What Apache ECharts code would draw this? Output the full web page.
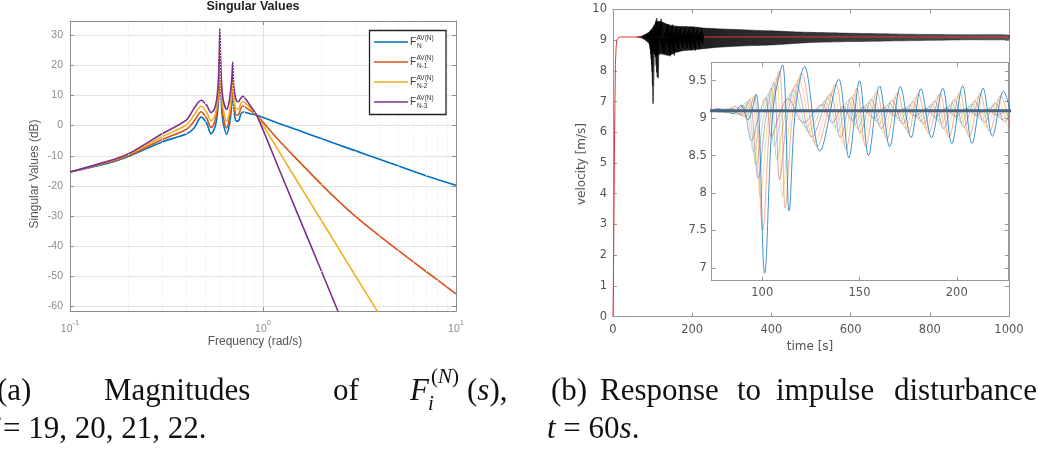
<!DOCTYPE html>
<html>
<head>
<meta charset="utf-8">
<script src="https://cdn.jsdelivr.net/npm/echarts@6.0.0/dist/echarts.min.js"></script>
<style>
  html, body { margin: 0; padding: 0; background: #fff; }
  #chart { width: 1038px; height: 450px; }
</style>
</head>
<body>
<div id="chart"></div>
<script>
// ---------- (a) singular values ----------
const freq = [0.1, 0.15, 0.2, 0.3, 0.4, 0.44, 0.478, 0.51, 0.538, 0.56,
  0.575, 0.586, 0.593, 0.598, 0.603, 0.61, 0.622, 0.648, 0.668, 0.682,
  0.69, 0.697, 0.704, 0.714, 0.728, 0.745, 0.765, 0.785, 0.85, 0.928,
  1.2, 1.5, 2, 2.44, 3, 3.88, 5, 7, 10];
const svN = [-15.4, -12.8, -10.3, -5.4, -2.8, -0.8, 2.8, 0.8, -2.7, -1.0,
  2.0, 7, 13, 21, 13, 6, 1, -2.9, 0, 4,
  8, 12, 7, 3, 1.5, 1.5, 3.5, 4.5, 4.0, 3.4,
  0.8, -1.4, -4.3, -6.3, -8.3, -10.8, -13.3, -16.6, -19.8];
const svN1 = [-15.4, -12.6, -10.0, -4.6, -1.3, 1.5, 4.6, 2.5, -0.6, 1.0,
  4.0, 9, 16, 25, 16, 8, 3, -0.8, 2, 6,
  10, 15, 9, 5, 3.5, 3.5, 5.5, 6.5, 5.2, 3.4,
  -4.7, -11.2, -19.4, -24.8, -30.0, -35.8, -41.3, -48.4, -55.8];
const svN2 = [-15.4, -12.4, -9.7, -3.7, 0.2, 3.5, 6.4, 4.5, 1.6, 3.0,
  6.0, 11, 19, 28.5, 19, 11, 5.5, 1.5, 4, 8,
  12.5, 18, 11.5, 7, 5.5, 5.5, 7.0, 8.0, 6.2, 3.4,
  -8.2, -18.3, -31.3, -40.3, -49.6, -61.2, -72.7, null, null];
const svN3 = [-15.4, -12.2, -9.4, -2.7, 1.8, 5.8, 8.4, 6.8, 4.3, 5.5,
  8.5, 14, 22, 32.2, 22, 14, 8.5, 5.4, 8, 12.5,
  16, 21.1, 13.5, 10.5, 8.3, 7.9, 9.0, 9.7, 7.0, 3.4,
  -13.8, -28.8, -48, -61.4, -75, null, null, null, null];
const minorFreq = [0.2, 0.3, 0.4, 0.5, 0.6, 0.7, 0.8, 0.9, 2, 3, 4, 5, 6, 7, 8, 9];
const svSub = ['N', 'N-1', 'N-2', 'N-3'];
const svColors = ['#0072BD', '#D95319', '#EDB120', '#7E2F8E'];

// ---------- (b) velocity response ----------
const redT = [0, 2, 4, 6, 8, 10, 14, 20, 1000];
const redV = [0, 2.5, 6.0, 8.2, 8.8, 9.0, 9.08, 9.1, 9.1];
const cruiseT = [0, 1000];
const cruiseV = [9.1, 9.1];
// spread of the black traces in the big plot
const envT  = [60, 75, 90, 100, 110, 120, 140, 160, 180, 200, 230, 260, 300, 350, 400, 450, 500, 600, 700, 800, 900, 1000];
const envHi = [9.1, 9.14, 9.25, 9.4, 9.6, 9.6, 9.5, 9.45, 9.44, 9.43, 9.39, 9.37, 9.35, 9.32, 9.3, 9.27, 9.25, 9.22, 9.2, 9.18, 9.17, 9.16];
const envLo = [9.1, 9.05, 8.9, 8.6, 8.5, 8.55, 8.5, 8.6, 8.66, 8.68, 8.72, 8.76, 8.79, 8.82, 8.84, 8.88, 8.92, 8.95, 8.97, 8.99, 9.01, 9.02];
// single vehicles, peaks and troughs as seen in the inset
const vehBlue = [[74,9.10],[80,9.12],[85,9.06],[89,9.17],[92.5,8.98],[96.8,9.32],[101.2,6.93],[105.5,9.1],[110.4,9.71],[113.8,7.76],[117,9.1],[121.7,9.69],[129.6,8.56],[139.3,9.52],[144.5,8.47],[150.0,9.50],[154.6,8.50],[160.3,9.43],[165.5,8.62],[171.0,9.42],[176.5,8.74],[181.5,9.39],[187.0,8.74],[192.8,9.40],[197.4,8.66],[203.0,9.43],[207.8,8.66],[213.5,9.40],[218.3,8.76],[224.0,9.36],[229.0,8.90]];
const vehOrange = [[74,9.11],[79,9.08],[84,9.14],[88,9.05],[91.5,9.02],[95.7,9.30],[100.2,7.50],[104.3,9.05],[108.8,9.63],[111.8,7.80],[115.6,9.05],[120.2,9.60],[128.2,8.62],[137.8,9.45],[143.0,8.58],[148.6,9.40],[153.2,8.62],[158.9,9.36],[164.1,8.72],[169.6,9.34],[175.1,8.80],[180.1,9.33],[185.6,8.80],[191.4,9.33],[196.0,8.74],[201.6,9.35],[206.4,8.75],[212.1,9.33],[216.9,8.82],[222.6,9.30],[227.4,8.86]];
const vehYellow = [[74,9.09],[78,9.12],[83,9.06],[87,9.15],[90.5,9.02],[94.5,9.28],[99.0,7.95],[103,9.0],[107.3,9.55],[110.3,7.95],[114.2,9.0],[118.8,9.52],[126.8,8.68],[136.4,9.38],[141.6,8.66],[147.2,9.33],[151.8,8.72],[157.5,9.30],[162.7,8.80],[168.2,9.28],[173.7,8.86],[178.7,9.27],[184.2,8.86],[190.0,9.28],[194.6,8.80],[200.2,9.30],[205.0,8.82],[210.7,9.28],[215.5,8.88],[221.2,9.25],[226.0,8.90]];
const vehPurple = [[74,9.1],[77,9.13],[82,9.07],[86,9.16],[89.5,9.04],[93.3,9.25],[97.9,8.20],[101.8,9.0],[105.9,9.48],[108.9,8.18],[112.8,9.0],[117.4,9.45],[125.4,8.75],[135.0,9.32],[140.2,8.74],[145.8,9.28],[150.4,8.80],[156.1,9.25],[161.3,8.86],[166.8,9.24],[172.3,8.92],[177.3,9.22],[182.8,8.92],[188.6,9.23],[193.2,8.86],[198.8,9.25],[203.6,8.88],[209.3,9.23],[214.1,8.94],[219.8,9.20],[224.6,8.95],[229,9.15]];
const vehGreen = [[74,9.12],[78,9.08],[82,9.13],[85.5,9.06],[88.5,9.05],[92.2,9.22],[96.8,8.38],[100.6,9.0],[104.5,9.40],[107.5,8.45],[111.4,9.0],[116.0,9.38],[124.0,8.82],[133.6,9.27],[138.8,8.82],[144.4,9.24],[149.0,8.86],[154.7,9.21],[159.9,8.92],[165.4,9.20],[170.9,8.96],[175.9,9.18],[181.4,8.96],[187.2,9.19],[191.8,8.92],[197.4,9.20],[202.2,8.94],[207.9,9.19],[212.7,8.98],[218.4,9.17],[223.2,8.98],[228,9.15]];
const vehCyan = [[74,9.08],[78,9.12],[81,9.07],[84.5,9.13],[87.5,9.06],[91.0,9.20],[95.6,8.55],[99.4,9.02],[103.1,9.33],[106.1,8.62],[110,9.02],[114.6,9.32],[122.6,8.88],[132.2,9.22],[137.4,8.88],[143.0,9.20],[147.6,8.92],[153.3,9.18],[158.5,8.96],[164.0,9.17],[169.5,9.00],[174.5,9.15],[180.0,9.00],[185.8,9.16],[190.4,8.97],[196.0,9.17],[200.8,8.98],[206.5,9.16],[211.3,9.01],[217.0,9.14],[221.8,9.01],[227.0,9.14]];
const vehRed = [[74,9.1],[77,9.12],[80.5,9.08],[83.5,9.12],[86.5,9.07],[89.8,9.17],[94.4,8.70],[98.2,9.03],[101.7,9.27],[104.7,8.75],[108.6,9.03],[113.2,9.26],[121.2,8.94],[130.8,9.18],[136.0,8.94],[141.6,9.16],[146.2,8.97],[151.9,9.15],[157.1,9.00],[162.6,9.14],[168.1,9.03],[173.1,9.13],[178.6,9.03],[184.4,9.13],[189.0,9.01],[194.6,9.14],[199.4,9.02],[205.1,9.13],[209.9,9.04],[215.6,9.12],[220.4,9.04],[226.0,9.12]];
const vehicles = [vehRed, vehCyan, vehGreen, vehPurple, vehYellow, vehOrange, vehBlue];
const vehColors = ['#A2142F', '#4DBEEE', '#77AC30', '#7E2F8E', '#EDB120', '#D95319', '#0072BD'];

// caption words placed where the justified lines put them
const capLine1 = [[-3, '(a)'], [104, 'Magnitudes'], [333, 'of'], [551, '(b)'], [600, 'Response'], [737, 'to'], [776, 'impulse'], [894, 'disturbance']];

const pair = (xs, ys) => xs.map((x, i) => [x, ys[i]]);

const chart = echarts.init(document.getElementById('chart'));

const leftGray = '#8c8c8c';
const leftFont = 'Liberation Sans';
const rightFont = 'DejaVu Sans';

function mirrorAxis(gridIndex, position, extra, color) {
  return Object.assign({
    gridIndex: gridIndex,
    position: position,
    axisLine: { show: true, onZero: false, lineStyle: { color: color } },
    axisTick: { show: true, inside: true, length: 4, lineStyle: { color: color } },
    axisLabel: { show: false },
    splitLine: { show: false }
  }, extra);
}

const leftLog = { type: 'log', logBase: 10, min: 0.1, max: 10 };
const leftVal = { type: 'value', min: -61.5, max: 34.7, splitNumber: 10 };
const mainX = { type: 'value', min: 0, max: 1000, interval: 200 };
const mainY = { type: 'value', min: 0, max: 10, interval: 1 };
const insetX = { type: 'value', min: 74, max: 226.7, splitNumber: 3 };
const insetY = { type: 'value', min: 6.83, max: 9.74, splitNumber: 6 };

const series = [];

// (a)
[svN, svN1, svN2, svN3].forEach((vals, k) => {
  series.push({
    type: 'line', xAxisIndex: 0, yAxisIndex: 0,
    data: pair(freq, vals),
    showSymbol: false, smooth: 0.3,
    lineStyle: { width: 1.6, color: svColors[k] },
    itemStyle: { color: svColors[k] },
    markLine: k === 0 ? {
      silent: true, symbol: ['none', 'none'], label: { show: false },
      lineStyle: { color: '#e6e6e6', type: [1, 2], width: 1 },
      data: minorFreq.map(f => ({ xAxis: f }))
    } : undefined
  });
});

// (b) main plot: red lead trace first, the black traces go over it
series.push({
  type: 'line', xAxisIndex: 2, yAxisIndex: 2, data: pair(redT, redV),
  showSymbol: false, lineStyle: { width: 1, color: '#e03a3a' }
});
series.push({
  type: 'custom', xAxisIndex: 2, yAxisIndex: 2,
  data: [[envT[0], envHi[0]]], encode: { x: 0, y: 1 }, silent: true,
  renderItem: (params, api) => {
    const top = envT.map((t, i) => api.coord([t, envHi[i]]));
    const bot = envT.map((t, i) => api.coord([t, envLo[i]])).reverse();
    return {
      type: 'polygon',
      shape: { points: top.concat(bot), smooth: 0.2 },
      style: {
        fill: new echarts.graphic.LinearGradient(0, 0, 1, 0, [
          { offset: 0, color: 'rgba(0,0,0,0.95)' },
          { offset: 0.25, color: 'rgba(0,0,0,0.85)' },
          { offset: 1, color: 'rgba(30,30,30,0.75)' }
        ]),
        stroke: '#111', lineWidth: 0.5
      }
    };
  }
});
vehicles.forEach(v => {
  series.push({
    type: 'line', xAxisIndex: 2, yAxisIndex: 2, data: v,
    showSymbol: false, smooth: 0.35,
    lineStyle: { width: 0.7, color: '#000' }
  });
});

// (b) inset
vehicles.forEach((v, k) => {
  const main = k === vehicles.length - 1;
  series.push({
    type: 'line', xAxisIndex: 4, yAxisIndex: 4, data: v,
    showSymbol: false, smooth: 0.35,
    lineStyle: { width: main ? 1 : 0.8, color: vehColors[k], opacity: main ? 0.75 : 0.55 }
  });
});
series.push({
  type: 'line', xAxisIndex: 4, yAxisIndex: 4, data: pair(cruiseT, cruiseV),
  showSymbol: false, lineStyle: { width: 3, color: '#4a6580' }
});

// legend of (a), drawn by hand for the stacked super/subscripts
const graphic = [];
graphic.push({
  type: 'rect', shape: { x: 369.5, y: 30.5, width: 76.5, height: 84 },
  style: { fill: '#fff', stroke: '#222', lineWidth: 1.3 }, z: 100
});
svSub.forEach((sub, k) => {
  const y = 42 + 20 * k;
  graphic.push({ type: 'line', shape: { x1: 374, y1: y, x2: 408, y2: y },
    style: { stroke: svColors[k], lineWidth: 1.6 }, z: 101 });
  graphic.push({ type: 'text', x: 410, y: y, z: 101,
    style: { text: 'F', fontSize: 10, fontFamily: leftFont, fill: '#333', verticalAlign: 'middle', textVerticalAlign: 'middle' } });
  graphic.push({ type: 'text', x: 416.5, y: y - 4, z: 101,
    style: { text: 'AV(N)', fontSize: 6.5, fontFamily: leftFont, fill: '#333', verticalAlign: 'middle', textVerticalAlign: 'middle' } });
  graphic.push({ type: 'text', x: 417, y: y + 4.5, z: 101,
    style: { text: sub, fontSize: 6.5, fontFamily: leftFont, fill: '#333', verticalAlign: 'middle', textVerticalAlign: 'middle' } });
});

function label(x, y, text, font, size, color, opts) {
  return Object.assign({
    type: 'text', x: x, y: y,
    style: { text: text, fontFamily: font, fontSize: size, fill: color,
      align: 'center', textAlign: 'center', verticalAlign: 'middle', textVerticalAlign: 'middle' }
  }, opts || {});
}
const title = label(253, 7, 'Singular Values', leftFont, 12.5, '#222', {});
title.style.fontWeight = 'bold';
graphic.push(title);
graphic.push(label(35, 174, 'Singular Values (dB)', leftFont, 12, '#555', { rotation: Math.PI / 2 }));
graphic.push(label(255, 342, 'Frequency (rad/s)', leftFont, 12, '#555', {}));
graphic.push(label(582, 164, 'velocity [m/s]', rightFont, 12, '#555', { rotation: Math.PI / 2 }));
graphic.push(label(810, 347, 'time [s]', rightFont, 12, '#555', {}));

// captions
const serif = 'Liberation Serif';
function cap(x, y, text, size, rich) {
  return {
    type: 'text', x: x, y: y,
    style: { text: text, fontFamily: serif, fontSize: size, fill: '#111',
      align: 'left', textAlign: 'left', verticalAlign: 'middle', textVerticalAlign: 'middle',
      rich: rich }
  };
}
const itRich = { i: { fontFamily: serif, fontSize: 31, fontStyle: 'italic', fill: '#111' } };
const itSmall = { s: { fontFamily: serif, fontSize: 21, fontStyle: 'italic', fill: '#111' } };
capLine1.forEach(w => graphic.push(cap(w[0], 392, w[1], 31)));
graphic.push(cap(410, 392, '{i|F}', 31, itRich));
graphic.push(cap(428, 404, '{s|i}', 21, itSmall));
graphic.push(cap(431, 377, '({s|N})', 21, itSmall));
graphic.push(cap(467, 392, '({i|s}),', 31, itRich));
graphic.push(cap(-7, 430, '{i|i}', 31, itRich));
graphic.push(cap(3, 430, '= 19, 20, 21, 22.', 31));
graphic.push(cap(547, 430, '{i|t} = 60{i|s}.', 31, itRich));

const mainAxisLine = { show: true, onZero: false, lineStyle: { color: '#999' } };
const mainTick = { show: true, inside: true, length: 4, lineStyle: { color: '#999' } };

const option = {
  animation: false,
  backgroundColor: '#fff',
  grid: [
    { left: 70, top: 21, width: 386, height: 290, outerBoundsMode: 'none', show: true, backgroundColor: '#fff', borderWidth: 0 },
    { left: 613, top: 9.3, width: 396, height: 307.4, outerBoundsMode: 'none', show: true, backgroundColor: '#fff', borderWidth: 0 },
    { left: 711.7, top: 62.7, width: 297, height: 218, outerBoundsMode: 'none', show: true, backgroundColor: '#fff', borderWidth: 0 }
  ],
  xAxis: [
    Object.assign({}, leftLog, {
      gridIndex: 0, position: 'bottom',
      axisLine: { show: true, onZero: false, lineStyle: { color: leftGray } },
      axisTick: { show: true, inside: true, length: 4, lineStyle: { color: leftGray } },
      splitLine: { show: true, lineStyle: { color: '#e2e2e2' } },
      axisLabel: {
        margin: 8,
        formatter: v => '{b|10}{s|' + Math.round(Math.log10(v)) + '}',
        rich: {
          b: { fontSize: 10.5, fontFamily: leftFont, color: leftGray, lineHeight: 16, verticalAlign: 'bottom' },
          s: { fontSize: 7.5, fontFamily: leftFont, color: leftGray, lineHeight: 8, verticalAlign: 'top' }
        }
      }
    }),
    mirrorAxis(0, 'top', leftLog, leftGray),
    Object.assign({}, mainX, {
      gridIndex: 1, position: 'bottom',
      axisLine: mainAxisLine, axisTick: mainTick,
      splitLine: { show: false },
      axisLabel: { margin: 7, fontSize: 11.5, fontFamily: rightFont, color: '#555', formatter: v => String(v) }
    }),
    mirrorAxis(1, 'top', mainX, '#999'),
    Object.assign({}, insetX, {
      gridIndex: 2, position: 'bottom',
      axisLine: mainAxisLine, axisTick: mainTick,
      splitLine: { show: false },
      axisLabel: { margin: 6, fontSize: 11.5, fontFamily: rightFont, color: '#555',
        showMinLabel: false, showMaxLabel: false,
        formatter: v => (Math.abs(v % 50) < 1e-6 ? String(v) : '') }
    }),
    mirrorAxis(2, 'top', insetX, '#999')
  ],
  yAxis: [
    Object.assign({}, leftVal, {
      gridIndex: 0, position: 'left',
      axisLine: { show: true, onZero: false, lineStyle: { color: leftGray } },
      axisTick: { show: true, inside: true, length: 4, lineStyle: { color: leftGray } },
      splitLine: { show: true, lineStyle: { color: '#e2e2e2' } },
      axisLabel: { margin: 7, fontSize: 10.5, fontFamily: leftFont, color: leftGray,
        showMinLabel: false, showMaxLabel: false,
        formatter: v => (Math.abs(v % 10) < 1e-6 ? String(v) : '') }
    }),
    mirrorAxis(0, 'right', leftVal, leftGray),
    Object.assign({}, mainY, {
      gridIndex: 1, position: 'left',
      axisLine: mainAxisLine, axisTick: mainTick,
      splitLine: { show: false },
      axisLabel: { margin: 6, fontSize: 11.5, fontFamily: rightFont, color: '#555' }
    }),
    mirrorAxis(1, 'right', mainY, '#999'),
    Object.assign({}, insetY, {
      gridIndex: 2, position: 'left',
      axisLine: mainAxisLine, axisTick: mainTick,
      splitLine: { show: false },
      axisLabel: { margin: 5, fontSize: 11.5, fontFamily: rightFont, color: '#555',
        showMinLabel: false, showMaxLabel: false,
        formatter: v => (Math.abs(v * 2 - Math.round(v * 2)) < 1e-6 ? String(v) : '') }
    }),
    mirrorAxis(2, 'right', insetY, '#999')
  ],
  series: series,
  graphic: graphic
};

chart.setOption(option);
</script>
</body>
</html>
